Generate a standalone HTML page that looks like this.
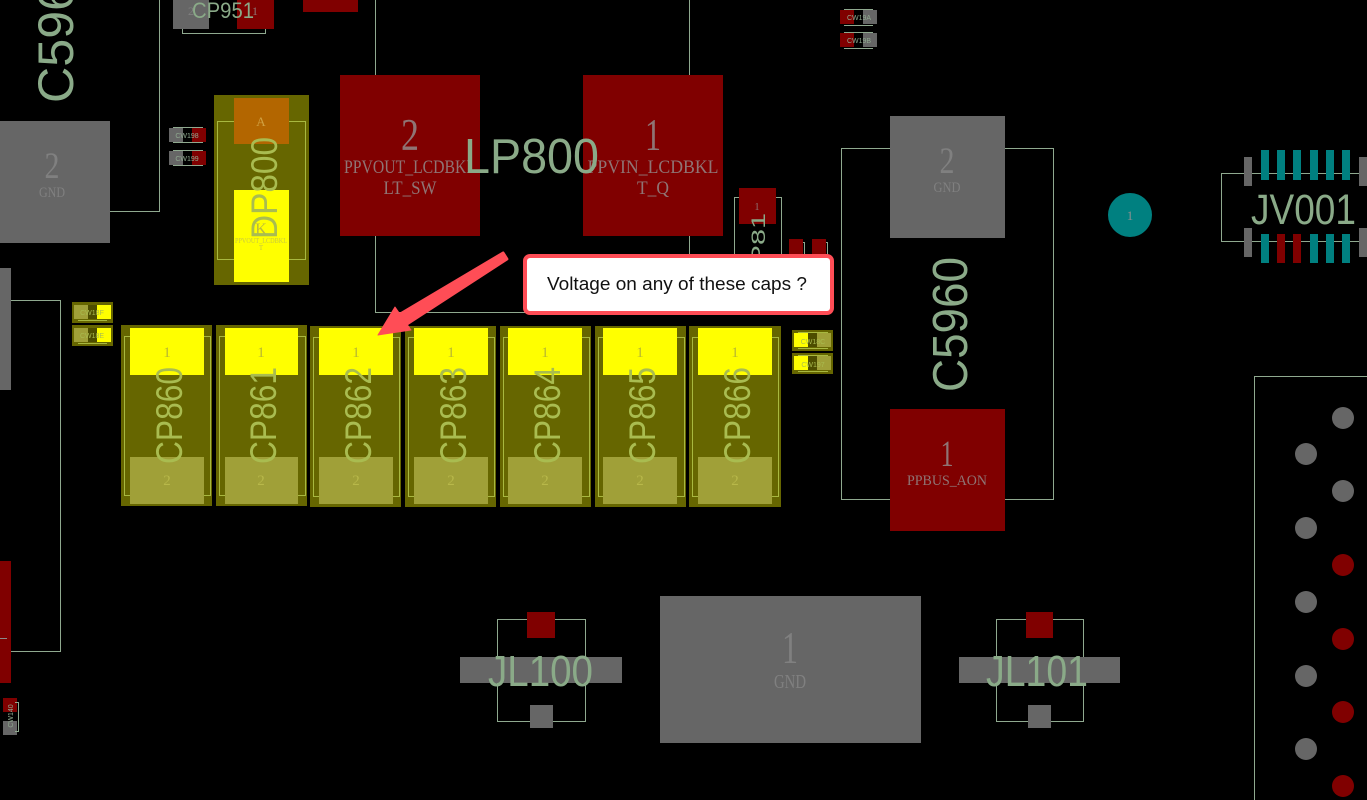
<!DOCTYPE html>
<html><head><meta charset="utf-8"><style>
html,body{margin:0;padding:0;background:#000;width:1367px;height:800px;overflow:hidden}
svg{display:block}
.o{fill:none;stroke:#8fa98f;stroke-width:1}
.oy{fill:none;stroke:#a8b840;stroke-width:1}
.r{font-family:"Liberation Sans",sans-serif;fill:#8aaa88}
.ry{font-family:"Liberation Sans",sans-serif;fill:#a9bc50}
.m{font-family:"Liberation Serif",serif;text-anchor:middle}
.g{fill:#808080}
.d{fill:#8f7474}
.s{font-family:"Liberation Sans",sans-serif;font-size:7px;text-anchor:middle}
</style></head><body>
<svg width="1367" height="800" viewBox="0 0 1367 800" xmlns="http://www.w3.org/2000/svg">
<rect width="1367" height="800" fill="#000"/>

<!-- left region -->
<path class="o" d="M159.500 0V211.500H110"/>
<rect x="0" y="121" width="110" height="122" fill="#666"/>
<text class="m g" x="52" y="178" font-size="37" textLength="15" lengthAdjust="spacingAndGlyphs">2</text>
<text class="m g" x="52" y="197" font-size="15" textLength="26" lengthAdjust="spacingAndGlyphs">GND</text>
<text class="r" transform="translate(73,103) rotate(-90)" font-size="50" textLength="148" lengthAdjust="spacingAndGlyphs">C5960</text>
<rect x="0" y="268" width="11" height="122" fill="#666"/>
<path class="o" d="M11 300.500H60.500V651.500H11"/>
<rect x="0" y="561" width="11" height="122" fill="#800000"/>
<rect x="0" y="638" width="7" height="1" fill="#8a8a8a"/>
<rect x="3" y="698" width="14" height="14" fill="#800000"/>
<rect x="3" y="721" width="14" height="14" fill="#666"/>
<path class="o" d="M15 702.500H18.500V731.500H15"/>
<text class="s" transform="translate(13,716) rotate(-90)" style="fill:#8fa98f">CW140</text>

<!-- CP951 -->
<path class="o" d="M182.500 29V33.500H265.500V29"/>
<rect x="173" y="0" width="36" height="29" fill="#666"/>
<rect x="237" y="0" width="37" height="29" fill="#800000"/>
<text class="m g" x="191" y="15" font-size="12">2</text>
<text class="m d" x="255" y="15" font-size="12">1</text>
<text class="r" x="192" y="18" font-size="22" textLength="62" lengthAdjust="spacingAndGlyphs">CP951</text>
<rect x="303" y="0" width="55" height="12" fill="#800000"/>

<!-- CW198/199 -->
<g>
<rect x="169" y="128" width="14" height="14" fill="#666"/><rect x="192" y="128" width="14" height="14" fill="#800000"/>
<path class="o" d="M173 127.500H203M173 142.500H203"/>
<text class="s" x="187" y="138" style="fill:#8fa98f">CW198</text>
<rect x="169" y="151" width="14" height="14" fill="#666"/><rect x="192" y="151" width="14" height="14" fill="#800000"/>
<path class="o" d="M173 150.500H203M173 165.500H203"/>
<text class="s" x="187" y="161" style="fill:#8fa98f">CW199</text>
</g>

<!-- DP800 -->
<rect x="214" y="95" width="95" height="190" fill="#666600"/>
<rect x="217.500" y="121.500" width="88" height="138" class="oy"/>
<rect x="234" y="98" width="55" height="46" fill="#b36600"/>
<rect x="234" y="190" width="55" height="92" fill="#ffff00"/>
<text class="m" x="261" y="126" font-size="13" fill="#d0a040">A</text>
<text class="m" x="261" y="234" font-size="16" fill="#b8b840">K</text>
<text class="m" x="261" y="243" font-size="7" fill="#c8c840" textLength="52" lengthAdjust="spacingAndGlyphs">PPVOUT_LCDBKL</text>
<text class="m" x="261" y="250" font-size="7" fill="#c8c840">T</text>
<text class="ry" transform="translate(277,239) rotate(-90)" font-size="37" textLength="102" lengthAdjust="spacingAndGlyphs">DP800</text>

<!-- LP800 -->
<path class="o" d="M375.500 0V312.500H689.500V0"/>
<rect x="340" y="75" width="140" height="161" fill="#800000"/>
<rect x="583" y="75" width="140" height="161" fill="#800000"/>
<text class="m d" x="410" y="150" font-size="45" textLength="18" lengthAdjust="spacingAndGlyphs">2</text>
<text class="m d" x="653" y="150" font-size="45" textLength="16" lengthAdjust="spacingAndGlyphs">1</text>
<text class="m d" x="410" y="173" font-size="19" textLength="132" lengthAdjust="spacingAndGlyphs">PPVOUT_LCDBKL</text>
<text class="m d" x="410" y="194" font-size="19" textLength="53" lengthAdjust="spacingAndGlyphs">LT_SW</text>
<text class="m d" x="653" y="173" font-size="19" textLength="131" lengthAdjust="spacingAndGlyphs">PPVIN_LCDBKL</text>
<text class="m d" x="653" y="194" font-size="19" textLength="32" lengthAdjust="spacingAndGlyphs">T_Q</text>
<text class="r" x="464" y="173" font-size="49" textLength="135" lengthAdjust="spacingAndGlyphs">LP800</text>

<!-- CP811 + tiny -->
<path class="o" d="M734.500 255V197.500H781.500V255"/>
<rect x="739" y="188" width="37" height="36" fill="#800000"/>
<text class="m d" x="757" y="210" font-size="10">1</text>
<text class="r" transform="translate(765,285) rotate(-90)" font-size="19" textLength="72" lengthAdjust="spacingAndGlyphs">CP81</text>
<path class="o" d="M803 242.500H804.500V255M826 242.500H827.500V255"/>
<rect x="789" y="239" width="14" height="16" fill="#800000"/>
<rect x="812" y="239" width="14" height="16" fill="#800000"/>
<text class="s" transform="translate(799,269) rotate(-90)" style="fill:#a08a8a">CW19E</text>
<text class="s" transform="translate(822,269) rotate(-90)" style="fill:#a08a8a">CW1A0</text>

<!-- top right CW -->
<g>
<path class="o" d="M844 9.500H873M844 25.500H873M844 32.500H873M844 48.500H873"/>
<rect x="840" y="10" width="14" height="14" fill="#800000"/><rect x="863" y="10" width="14" height="14" fill="#666"/>
<rect x="840" y="33" width="14" height="14" fill="#800000"/><rect x="863" y="33" width="14" height="14" fill="#666"/>
<text class="s" x="859" y="20" style="fill:#8fa98f">CW19A</text>
<text class="s" x="859" y="43" style="fill:#8fa98f">CW19B</text>
</g>

<!-- small olive CW -->
<g>
<rect x="72" y="302" width="41" height="21" fill="#666600"/><rect x="72" y="325" width="41" height="21" fill="#666600"/>
<rect x="74" y="305" width="14" height="14" fill="#a0a038"/><rect x="88" y="305" width="9" height="14" fill="#4d4d00"/><rect x="97" y="305" width="14" height="14" fill="#ffff00"/>
<rect x="74" y="328" width="14" height="14" fill="#a0a038"/><rect x="88" y="328" width="9" height="14" fill="#4d4d00"/><rect x="97" y="328" width="14" height="14" fill="#ffff00"/>
<path class="oy" d="M78 320.500H107M78 343.500H107"/>
<text class="s" x="92" y="315" style="fill:#a9bc50">CW18F</text>
<text class="s" x="92" y="338" style="fill:#a9bc50">CW18E</text>
<rect x="792" y="330" width="41" height="21" fill="#666600"/><rect x="792" y="353" width="41" height="21" fill="#666600"/>
<rect x="794" y="333" width="14" height="14" fill="#ffff00"/><rect x="808" y="333" width="9" height="14" fill="#4d4d00"/><rect x="817" y="333" width="14" height="14" fill="#a0a038"/>
<rect x="794" y="356" width="14" height="14" fill="#ffff00"/><rect x="808" y="356" width="9" height="14" fill="#4d4d00"/><rect x="817" y="356" width="14" height="14" fill="#a0a038"/>
<path class="oy" d="M798 332.500H828M798 348.500H828M798 355.500H828M798 371.500H828"/>
<text class="s" x="813" y="344" style="fill:#a9bc50">CW18C</text>
<text class="s" x="813" y="367" style="fill:#a9bc50">CW197</text>
</g>

<!-- CP caps -->
<g>
<rect x="121" y="325" width="91" height="181" fill="#666600"/><rect x="124.500" y="336.500" width="86" height="159" class="oy"/>
<rect x="130" y="328" width="74" height="47" fill="#ffff00"/><rect x="130" y="457" width="74" height="47" fill="#a0a038"/>
<text class="m" x="167" y="357" font-size="15" fill="#b8b830">1</text><text class="m" x="167" y="485" font-size="15" fill="#b8b84a">2</text>
<text class="ry" transform="translate(182,464) rotate(-90)" font-size="37" textLength="97" lengthAdjust="spacingAndGlyphs">CP860</text>

<rect x="216" y="325" width="91" height="181" fill="#666600"/><rect x="219.500" y="336.500" width="86" height="159" class="oy"/>
<rect x="225" y="328" width="73" height="47" fill="#ffff00"/><rect x="225" y="457" width="73" height="47" fill="#a0a038"/>
<text class="m" x="261" y="357" font-size="15" fill="#b8b830">1</text><text class="m" x="261" y="485" font-size="15" fill="#b8b84a">2</text>
<text class="ry" transform="translate(276,464) rotate(-90)" font-size="37" textLength="97" lengthAdjust="spacingAndGlyphs">CP861</text>

<rect x="310" y="326" width="91" height="181" fill="#666600"/><rect x="313.500" y="337.500" width="86" height="159" class="oy"/>
<rect x="319" y="328" width="74" height="47" fill="#ffff00"/><rect x="319" y="457" width="74" height="47" fill="#a0a038"/>
<text class="m" x="356" y="357" font-size="15" fill="#b8b830">1</text><text class="m" x="356" y="485" font-size="15" fill="#b8b84a">2</text>
<text class="ry" transform="translate(371,464) rotate(-90)" font-size="37" textLength="97" lengthAdjust="spacingAndGlyphs">CP862</text>

<rect x="405" y="326" width="91" height="181" fill="#666600"/><rect x="408.500" y="337.500" width="86" height="159" class="oy"/>
<rect x="414" y="328" width="74" height="47" fill="#ffff00"/><rect x="414" y="457" width="74" height="47" fill="#a0a038"/>
<text class="m" x="451" y="357" font-size="15" fill="#b8b830">1</text><text class="m" x="451" y="485" font-size="15" fill="#b8b84a">2</text>
<text class="ry" transform="translate(466,464) rotate(-90)" font-size="37" textLength="97" lengthAdjust="spacingAndGlyphs">CP863</text>

<rect x="500" y="326" width="91" height="181" fill="#666600"/><rect x="503.500" y="337.500" width="86" height="159" class="oy"/>
<rect x="508" y="328" width="74" height="47" fill="#ffff00"/><rect x="508" y="457" width="74" height="47" fill="#a0a038"/>
<text class="m" x="545" y="357" font-size="15" fill="#b8b830">1</text><text class="m" x="545" y="485" font-size="15" fill="#b8b84a">2</text>
<text class="ry" transform="translate(560,464) rotate(-90)" font-size="37" textLength="97" lengthAdjust="spacingAndGlyphs">CP864</text>

<rect x="595" y="326" width="91" height="181" fill="#666600"/><rect x="598.500" y="337.500" width="86" height="159" class="oy"/>
<rect x="603" y="328" width="74" height="47" fill="#ffff00"/><rect x="603" y="457" width="74" height="47" fill="#a0a038"/>
<text class="m" x="640" y="357" font-size="15" fill="#b8b830">1</text><text class="m" x="640" y="485" font-size="15" fill="#b8b84a">2</text>
<text class="ry" transform="translate(655,464) rotate(-90)" font-size="37" textLength="97" lengthAdjust="spacingAndGlyphs">CP865</text>

<rect x="689" y="326" width="92" height="181" fill="#666600"/><rect x="692.500" y="337.500" width="86" height="159" class="oy"/>
<rect x="698" y="328" width="74" height="47" fill="#ffff00"/><rect x="698" y="457" width="74" height="47" fill="#a0a038"/>
<text class="m" x="735" y="357" font-size="15" fill="#b8b830">1</text><text class="m" x="735" y="485" font-size="15" fill="#b8b84a">2</text>
<text class="ry" transform="translate(750,464) rotate(-90)" font-size="37" textLength="97" lengthAdjust="spacingAndGlyphs">CP866</text>
</g>

<!-- C5960 right -->
<rect x="841.500" y="148.500" width="212" height="351" class="o"/>
<rect x="890" y="116" width="115" height="122" fill="#666"/>
<rect x="890" y="409" width="115" height="122" fill="#800000"/>
<text class="m g" x="947" y="173" font-size="37" textLength="15" lengthAdjust="spacingAndGlyphs">2</text>
<text class="m g" x="947" y="192" font-size="15" textLength="27" lengthAdjust="spacingAndGlyphs">GND</text>
<text class="m d" x="947" y="466" font-size="37" textLength="13" lengthAdjust="spacingAndGlyphs">1</text>
<text class="m d" x="947" y="485" font-size="15" textLength="80" lengthAdjust="spacingAndGlyphs">PPBUS_AON</text>
<text class="r" transform="translate(967,392) rotate(-90)" font-size="49" textLength="135" lengthAdjust="spacingAndGlyphs">C5960</text>

<!-- JV001 -->
<circle cx="1130" cy="215" r="22" fill="#008080"/>
<text class="m" x="1130" y="220" font-size="13" fill="#8a9090">1</text>
<path class="o" d="M1367 173.500H1221.500V241.500H1367"/>
<g fill="#666">
<rect x="1244" y="157" width="8" height="29"/><rect x="1244" y="228" width="8" height="29"/>
<rect x="1359" y="157" width="8" height="29"/><rect x="1359" y="228" width="8" height="29"/>
</g>
<g fill="#008080">
<rect x="1261" y="150" width="8" height="30"/><rect x="1277" y="150" width="8" height="30"/><rect x="1293" y="150" width="8" height="30"/><rect x="1310" y="150" width="8" height="30"/><rect x="1326" y="150" width="8" height="30"/><rect x="1342" y="150" width="8" height="30"/>
<rect x="1261" y="234" width="8" height="29"/><rect x="1310" y="234" width="8" height="29"/><rect x="1326" y="234" width="8" height="29"/><rect x="1342" y="234" width="8" height="29"/>
</g>
<rect x="1277" y="234" width="8" height="29" fill="#800000"/><rect x="1293" y="234" width="8" height="29" fill="#800000"/>
<text class="r" x="1251" y="224" font-size="43" textLength="105" lengthAdjust="spacingAndGlyphs">JV001</text>

<!-- right connector -->
<path class="o" d="M1367 376.500H1254.500V800"/>
<g fill="#666"><circle cx="1343" cy="418" r="11"/><circle cx="1306" cy="454" r="11"/><circle cx="1343" cy="491" r="11"/><circle cx="1306" cy="528" r="11"/><circle cx="1306" cy="602" r="11"/><circle cx="1306" cy="676" r="11"/><circle cx="1306" cy="749" r="11"/></g>
<g fill="#800000"><circle cx="1343" cy="565" r="11"/><circle cx="1343" cy="639" r="11"/><circle cx="1343" cy="712" r="11"/><circle cx="1343" cy="786" r="11"/></g>

<!-- JL100 / GND / JL101 -->
<rect x="497.500" y="619.500" width="88" height="102" class="o"/>
<rect x="527" y="612" width="28" height="26" fill="#800000"/>
<rect x="460" y="657" width="162" height="26" fill="#666"/>
<rect x="530" y="705" width="23" height="23" fill="#666"/>
<text class="r" x="488" y="686" font-size="44" textLength="105" lengthAdjust="spacingAndGlyphs">JL100</text>
<rect x="660" y="596" width="261" height="147" fill="#666"/>
<text class="m g" x="790" y="663" font-size="45" textLength="16" lengthAdjust="spacingAndGlyphs">1</text>
<text class="m g" x="790" y="688" font-size="20" textLength="32" lengthAdjust="spacingAndGlyphs">GND</text>
<rect x="996.500" y="619.500" width="87" height="102" class="o"/>
<rect x="1026" y="612" width="27" height="26" fill="#800000"/>
<rect x="959" y="657" width="161" height="26" fill="#666"/>
<rect x="1028" y="705" width="23" height="23" fill="#666"/>
<text class="r" x="986" y="686" font-size="44" textLength="102" lengthAdjust="spacingAndGlyphs">JL101</text>

<!-- callout -->
<path d="M506.900 259L503.100 253L398.800 314.900L405.200 325.100Z" fill="#ff4d56" stroke="#ff4d56" stroke-width="3" stroke-linejoin="round"/>
<path d="M378 335L395 307L411 330Z" fill="#ff4d56" stroke="#ff4d56" stroke-width="1" stroke-linejoin="round"/>
<rect x="525" y="256" width="307" height="57" rx="5" ry="5" fill="#fff" stroke="#ff4d56" stroke-width="4"/>
<text x="547" y="290" font-family="Liberation Sans, sans-serif" font-size="18.500" fill="#111" textLength="260" lengthAdjust="spacingAndGlyphs">Voltage on any of these caps ?</text>
</svg>
</body></html>
